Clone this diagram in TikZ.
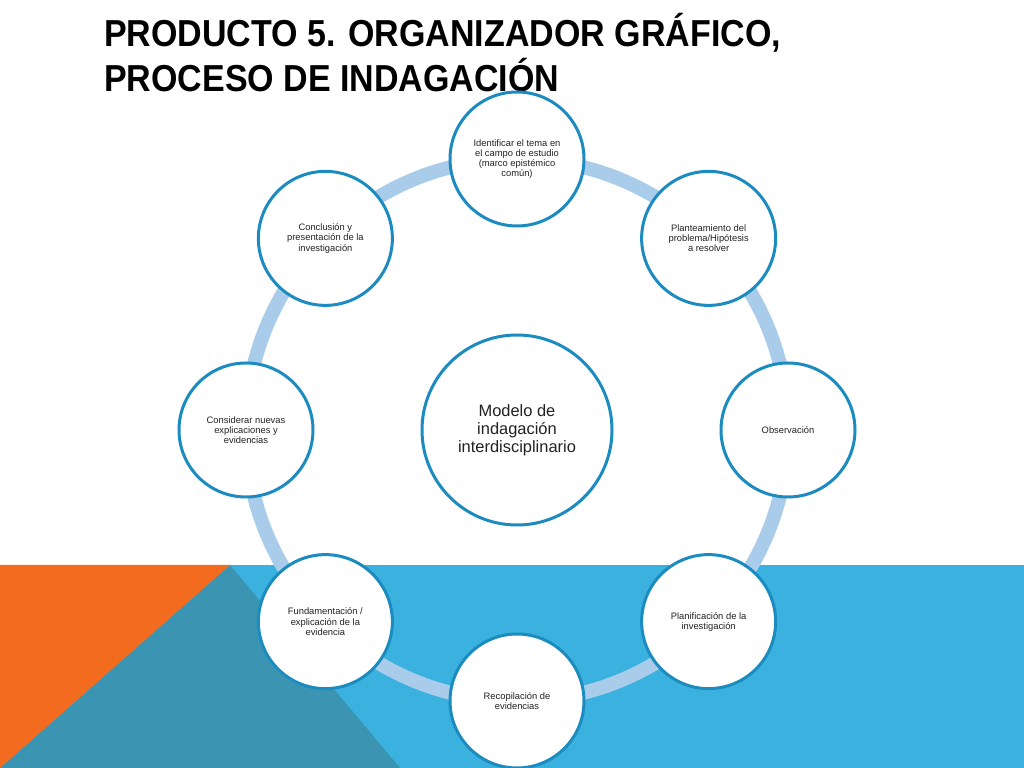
\documentclass[tikz,border=0pt]{standalone}
\usepackage{fontspec}
\setmainfont{Liberation Sans}
\newfontfamily\titlefont[FakeStretch=0.905]{Liberation Sans}
\usepackage{tikz}

\definecolor{bandblue}{HTML}{3AB1DE}
\definecolor{bandteal}{HTML}{3A94B2}
\definecolor{bandorange}{HTML}{F26B1F}
\definecolor{ringblue}{HTML}{A9CCEB}
\definecolor{circblue}{HTML}{1C8CC0}
\definecolor{txtgray}{HTML}{222222}

\tikzset{
  stage/.style={circle,draw=circblue,line width=3bp,fill=white,
    minimum size=134bp,inner sep=0pt,align=center,text=txtgray,
    font=\fontsize{9.4}{10.2}\selectfont},
  hub/.style={stage,minimum size=190bp,
    font=\fontsize{16.5}{18}\selectfont},
  heading/.style={anchor=base west,inner sep=0pt,
    font=\titlefont\bfseries\fontsize{37.7}{45}\selectfont}
}

\begin{document}
\begin{tikzpicture}[x=1bp,y=1bp]
  \useasboundingbox (0,0) rectangle (1024,768);
  % background band
  \fill[white] (0,0) rectangle (1024,768);
  \fill[bandblue] (0,0) rectangle (1024,203);
  \fill[bandteal] (230,203) -- (400,0) -- (0,0) -- cycle;
  \fill[bandorange] (0,203) -- (230,203) -- (0,0) -- cycle;
  % title
  \node[heading] (title1) at (104,721) {PRODUCTO 5. ORGANIZADOR GRÁFICO,};
  \node[heading] (title2) at (104,676) {PROCESO DE INDAGACIÓN};
  \begin{scope}[shift={(517,338)}]
    \coordinate (mid) at (0,0);
    \draw[ringblue,line width=14bp] (mid) circle[radius=271bp];
    \node[hub] (modelo) at (mid)
      {Modelo de\\indagación\\interdisciplinario};
    \node[stage] (tema) at (90:271)
      {Identificar el tema en\\el campo de estudio\\(marco epistémico\\común)};
    \node[stage] (planteo) at (45:271)
      {Planteamiento del\\problema/Hipótesis\\a resolver};
    \node[stage] (observ) at (0:271)
      {Observación};
    \node[stage] (planif) at (-45:271)
      {Planificación de la\\investigación};
    \node[stage] (recop) at (-90:271)
      {Recopilación de\\evidencias};
    \node[stage] (fundam) at (-135:271)
      {Fundamentación /\\explicación de la\\evidencia};
    \node[stage] (consid) at (180:271)
      {Considerar nuevas\\explicaciones y\\evidencias};
    \node[stage] (concl) at (135:271)
      {Conclusión y\\presentación de la\\investigación};
  \end{scope}
\end{tikzpicture}
\end{document}
